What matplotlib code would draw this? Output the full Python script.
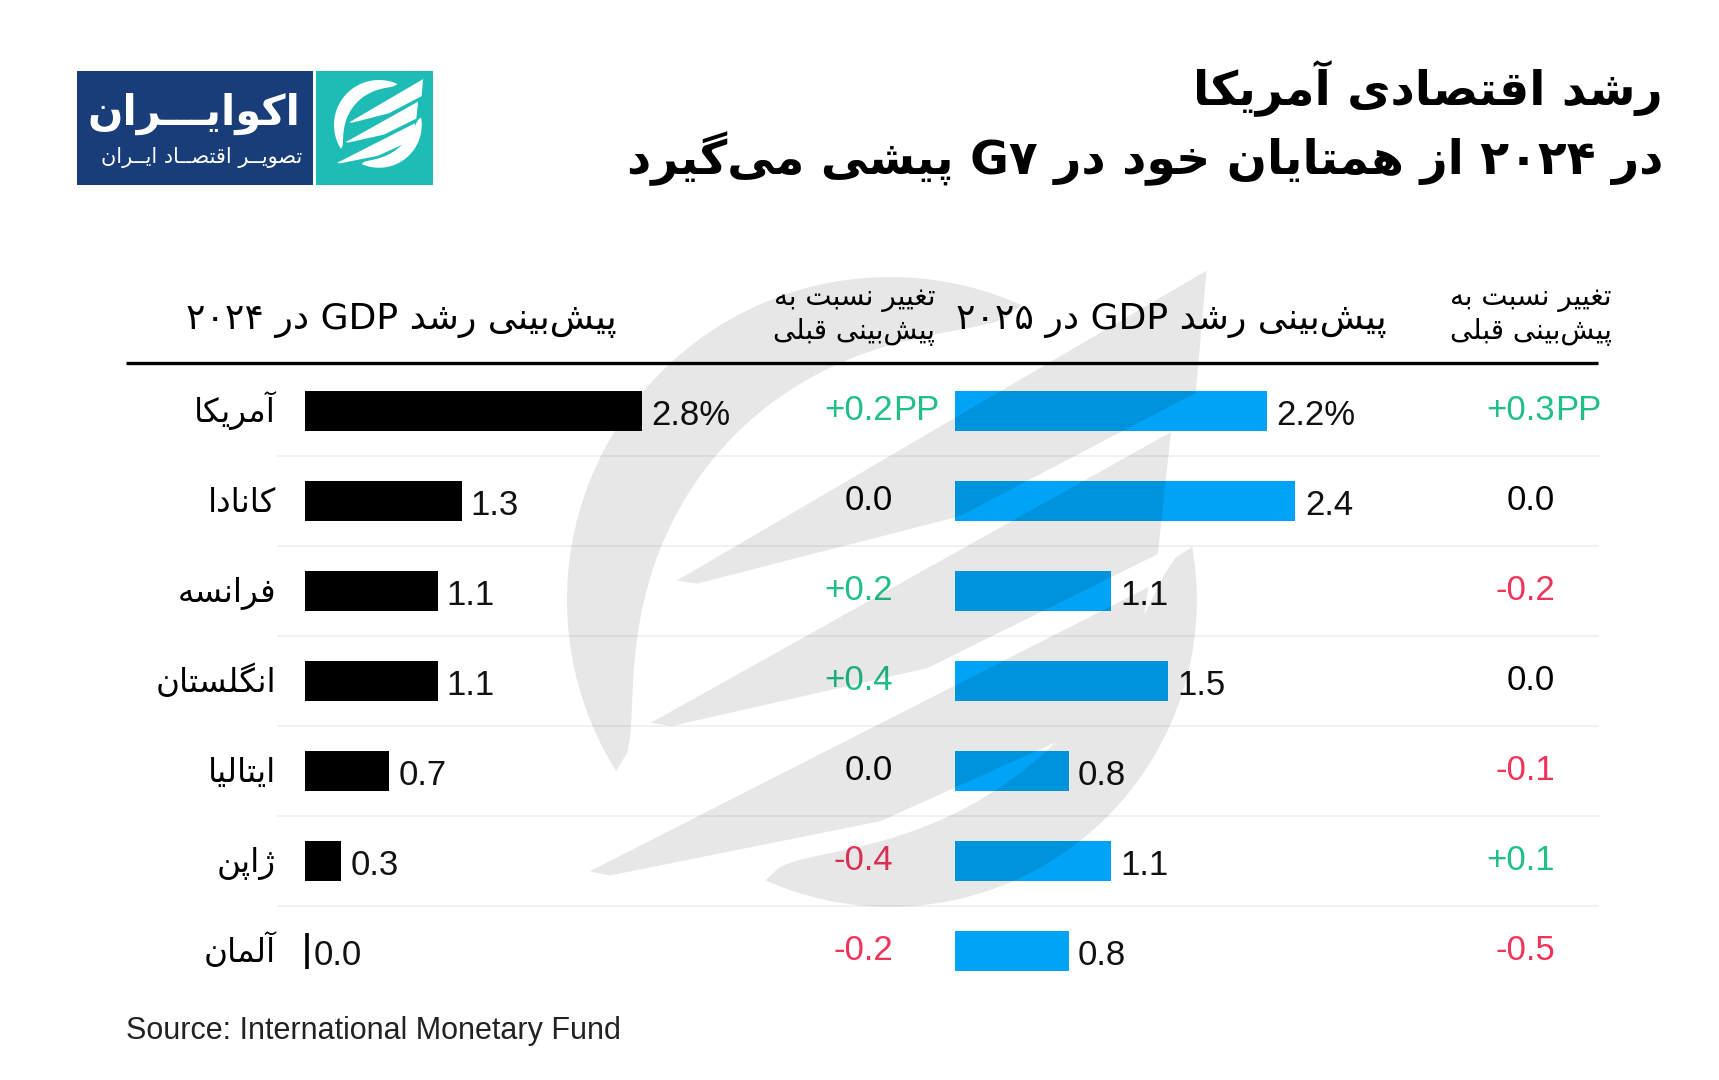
"""US GDP growth vs G7 peers, 2024/2025 IMF forecasts (Persian layout)."""
import numpy as np
import matplotlib
matplotlib.use("Agg")
import matplotlib.pyplot as plt
import matplotlib.transforms as mtransforms
from matplotlib.patches import PathPatch, Rectangle
from matplotlib.path import Path

W, H = 1719, 1080

COUNTRIES = ["آمریکا", "کانادا", "فرانسه", "انگلستان", "ایتالیا", "ژاپن", "آلمان"]
GDP_2024 = [2.8, 1.3, 1.1, 1.1, 0.7, 0.3, 0.0]
CHG_2024 = [0.2, 0.0, 0.2, 0.4, 0.0, -0.4, -0.2]
GDP_2025 = [2.2, 2.4, 1.1, 1.5, 0.8, 1.1, 0.8]
CHG_2025 = [0.3, 0.0, -0.2, 0.0, -0.1, 0.1, -0.5]

TITLE_1 = "رشد اقتصادی آمریکا"
TITLE_2 = "در ۲۰۲۴ از همتایان خود در G۷ پیشی می\u200cگیرد"
HEAD_2024 = "پیش\u200cبینی رشد GDP در ۲۰۲۴"
HEAD_2025 = "پیش\u200cبینی رشد GDP در ۲۰۲۵"
HEAD_CHG = ["تغییر نسبت به", "پیش\u200cبینی قبلی"]
LOGO_NAME = "اکوایـــران"
LOGO_SUB = "تصویــر اقتصــاد ایــران"
SOURCE = "Source: International Monetary Fund"

BLACK, BLUE = "#000000", "#00a3f5"
GREEN, RED = "#1fbf86", "#f0345a"
NAVY, TEAL = "#183d78", "#1dbdb6"
NUM_FONT = "Liberation Sans"

# --- minimal Persian shaping (matplotlib has no Arabic joining / bidi) -------
DUAL = {"\u0628": 0xFE8F, "\u067E": 0xFB56, "\u062A": 0xFE95, "\u062B": 0xFE99,
        "\u062C": 0xFE9D, "\u062D": 0xFEA1, "\u062E": 0xFEA5, "\u0633": 0xFEB1,
        "\u0634": 0xFEB5, "\u0635": 0xFEB9, "\u0636": 0xFEBD, "\u0637": 0xFEC1,
        "\u0638": 0xFEC5, "\u0639": 0xFEC9, "\u063A": 0xFECD, "\u0641": 0xFED1,
        "\u0642": 0xFED5, "\u06A9": 0xFB8E, "\u06AF": 0xFB92, "\u0644": 0xFEDD,
        "\u0645": 0xFEE1, "\u0646": 0xFEE5, "\u0647": 0xFEE9, "\u06CC": 0xFBFC}
RIGHT = {"\u0622": 0xFE81, "\u0627": 0xFE8D, "\u062F": 0xFEA9, "\u0630": 0xFEAB,
         "\u0631": 0xFEAD, "\u0632": 0xFEAF, "\u0698": 0xFB8A, "\u0648": 0xFEED}
TATWEEL = "\u0640"


def shape_word(w):
    out = []
    for i, c in enumerate(w):
        p = w[i - 1] if i > 0 else ""
        q = w[i + 1] if i < len(w) - 1 else ""
        jp = p in DUAL or p == TATWEEL
        jn = q in DUAL or q in RIGHT or q == TATWEEL
        if c in DUAL:
            b = DUAL[c]
            out.append(chr(b + (3 if jp and jn else 1 if jp else 2 if jn else 0)))
        elif c in RIGHT:
            out.append(chr(RIGHT[c] + (1 if jp else 0)))
        elif c == "\u200c":
            continue
        else:
            out.append(c)
    return "".join(out)


def fa(text):
    res = []
    for w in reversed(text.split(" ")):
        s = shape_word(w)
        if any(ch in DUAL or ch in RIGHT for ch in w):
            s = s[::-1]
        res.append(s)
    return " ".join(res)


# --- logo icon, normalised coords (unit radius, y up) ------------------------
def icon_polys():
    polys = []
    for a0, a1, r, th in [(66, 212, 1.0, 0.30), (-114, 10, 0.95, 0.28)]:
        t = np.linspace(0, 1, 80)
        ang = np.radians(a0 + (a1 - a0) * t)
        rin = r - th * np.sin(np.pi * t) ** 0.5
        outer = np.c_[r * np.cos(ang), r * np.sin(ang)]
        inner = np.c_[rin[::-1] * np.cos(ang[::-1]), rin[::-1] * np.sin(ang[::-1])]
        polys.append(np.vstack([outer, inner]))
    for s, t in [((-0.66, 0.06), (0.98, 1.02)), ((-0.74, -0.38), (0.87, 0.52)),
                 ((-0.93, -0.84), (0.80, 0.04))]:
        s, t = np.array(s), np.array(t)
        d = (t - s) / np.hypot(*(t - s))
        n = np.array([-d[1], d[0]])
        L = np.hypot(*(t - s))
        polys.append(np.array([s, t, t - d * 0.22 - n * 0.31,
                               s + d * L * 0.45 - n * 0.27, s + d * 0.05 - n * 0.04]))
    return polys


def icon_path(cx, cy, R):
    verts, codes = [], []
    for p in icon_polys():
        x, y = p[:, 0], p[:, 1]
        if 0.5 * np.sum(x * np.roll(y, -1) - np.roll(x, -1) * y) < 0:
            p = p[::-1]
        xy = np.c_[cx + R * p[:, 0], cy - R * p[:, 1]]
        verts += list(xy) + [xy[0]]
        codes += [Path.MOVETO] + [Path.LINETO] * (len(xy) - 1) + [Path.CLOSEPOLY]
    return Path(verts, codes)


fig = plt.figure(figsize=(W / 100, H / 100), dpi=100)
plt.rcParams["font.family"] = ["DejaVu Sans"]

bg = fig.add_axes([0, 0, 1, 1], zorder=0)
bg.set_xlim(0, W); bg.set_ylim(H, 0); bg.axis("off")

# title and logo
bg.text(1663, 88, fa(TITLE_1), ha="right", va="center", fontsize=34, fontweight="bold")
bg.text(1663, 159, fa(TITLE_2), ha="right", va="center", fontsize=34, fontweight="bold")
bg.add_patch(Rectangle((77, 71), 236, 114, color=NAVY, lw=0))
bg.add_patch(Rectangle((316, 71), 117, 114, color=TEAL, lw=0))
bg.add_patch(PathPatch(icon_path(379, 125, 45), color="white", lw=0))
bg.text(300, 114, fa(LOGO_NAME), ha="right", va="center", color="white",
        fontsize=30, fontweight="bold")
bg.text(302, 157, fa(LOGO_SUB), ha="right", va="center", color="white", fontsize=15)

# column headers
bg.text(617, 321, fa(HEAD_2024), ha="right", va="center", fontsize=26)
bg.text(1387, 321, fa(HEAD_2025), ha="right", va="center", fontsize=26)
for xr in (935, 1612):
    bg.text(xr, 298, fa(HEAD_CHG[0]), ha="right", va="center", fontsize=20)
    bg.text(xr, 332, fa(HEAD_CHG[1]), ha="right", va="center", fontsize=20)
bg.plot([126, 1598], [363, 363], color="black", lw=2.4, solid_capstyle="butt")

bg.text(126, 1031, SOURCE, ha="left", va="center", fontsize=22, family=NUM_FONT,
        color="#222222")

# bar panels: 7 rows of 90 px from y=366
nrow = len(COUNTRIES)
top, rowh = 366, 90
y_bot = top + rowh * nrow
for i in range(1, nrow):
    bg.plot([278, 1598], [top + rowh * i] * 2, color="#f0f0f0", lw=1.3)


def panel(x0, px_per_unit, width_px):
    ax = fig.add_axes([x0 / W, 1 - y_bot / H, width_px / W, (y_bot - top) / H], zorder=1)
    ax.set_xlim(0, width_px / px_per_unit)
    ax.set_ylim(nrow - 0.5, -0.5)
    ax.axis("off")
    ax.patch.set_alpha(0)
    return ax


ax1 = panel(305, 120.5, 340)
ax2 = panel(955, 142.0, 340)
rows = np.arange(nrow)

for ax, vals, color in [(ax1, GDP_2024, BLACK), (ax2, GDP_2025, BLUE)]:
    ax.barh(rows, vals, height=0.44, color=color, lw=0)
    for i, v in enumerate(vals):
        if v == 0:
            ax.plot([0.015, 0.015], [i - 0.2, i + 0.2], color=color, lw=2.6,
                    solid_capstyle="butt")
        lab = f"{v:.1f}%" if i == 0 else f"{v:.1f}"
        ax.annotate(lab, xy=(v, i), xytext=(6.5, -10.4), textcoords="offset points",
                    ha="left", va="baseline", fontsize=25, family=NUM_FONT,
                    color="#111111", annotation_clip=False)

# country names and change columns (x in pixels, y in row units)
rowtrans = mtransforms.blended_transform_factory(bg.transData, ax1.transData)
for i, name in enumerate(COUNTRIES):
    bg.annotate(fa(name), xy=(276, i), xycoords=rowtrans, xytext=(0, -8),
                textcoords="offset points", ha="right", va="baseline", fontsize=23.5)

for xr, chg in [(893, CHG_2024), (1555, CHG_2025)]:
    for i, c in enumerate(chg):
        col = GREEN if c > 0 else RED if c < 0 else BLACK
        txt = f"+{c:.1f}" if c > 0 else f"{c:.1f}"
        bg.annotate(txt, xy=(xr, i), xycoords=rowtrans, xytext=(0, -6.6),
                    textcoords="offset points", ha="right", va="baseline",
                    fontsize=25, family=NUM_FONT, color=col)
        if i == 0:
            bg.annotate("PP", xy=(xr, i), xycoords=rowtrans, xytext=(0, -6.6),
                        textcoords="offset points", ha="left", va="baseline",
                        fontsize=25, family=NUM_FONT, color=col)

# faint watermark overlay
wm = fig.add_axes([0, 0, 1, 1], zorder=10)
wm.set_xlim(0, W); wm.set_ylim(H, 0); wm.axis("off"); wm.patch.set_alpha(0)
wm.add_patch(PathPatch(icon_path(890, 600, 323), color="black", alpha=0.095, lw=0))

fig.savefig("out.png", dpi=100)
